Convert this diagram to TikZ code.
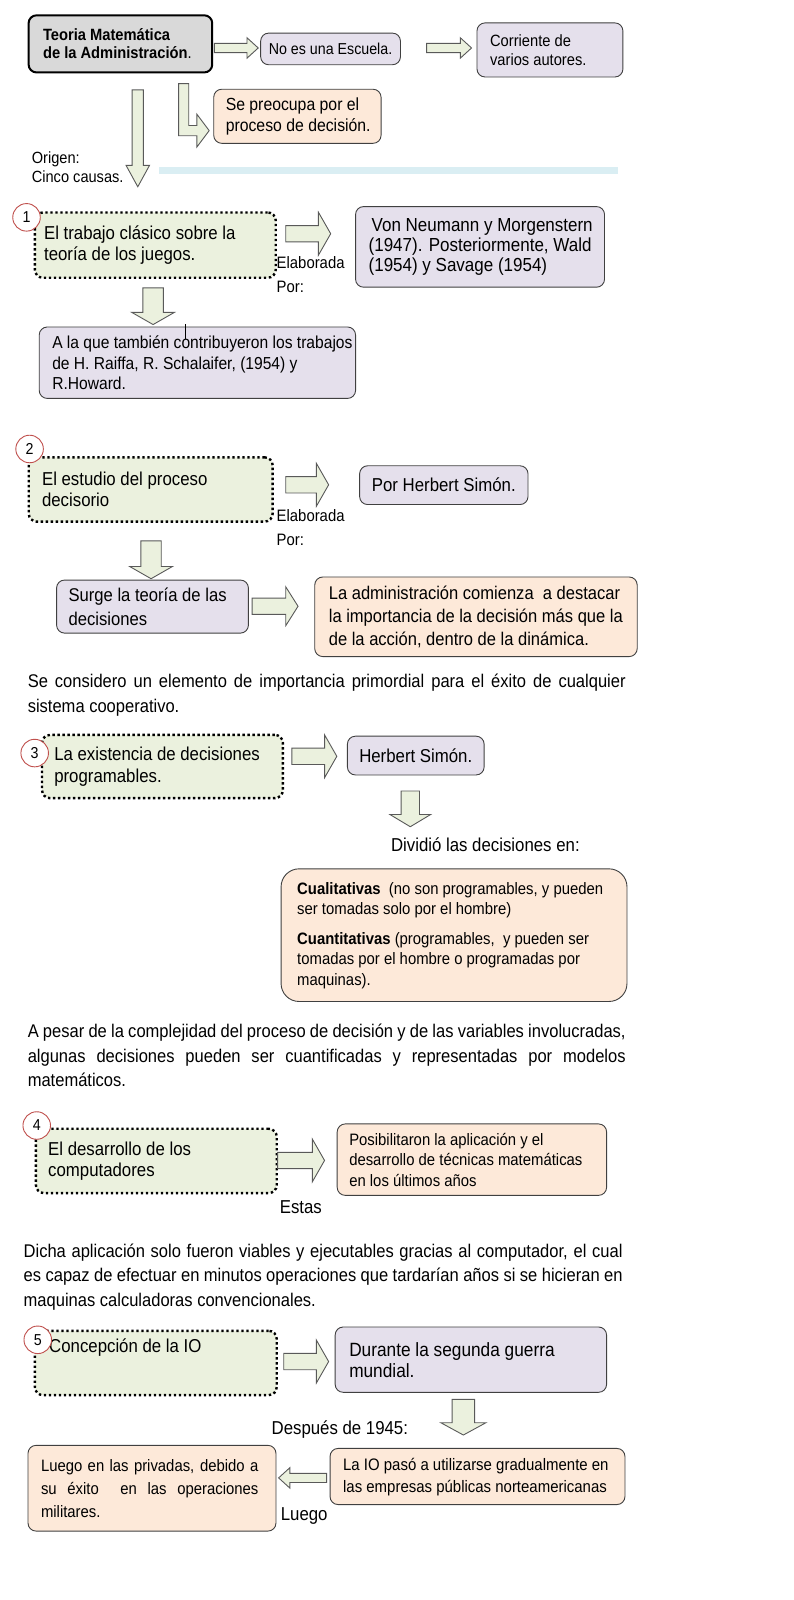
\documentclass[tikz,border=0pt]{standalone}
\usepackage{fontspec}
\setmainfont{Liberation Sans}[FakeStretch=0.9]
\usetikzlibrary{calc,positioning}

\definecolor{lila}{HTML}{E5E0EC}
\definecolor{durazno}{HTML}{FDE9D9}
\definecolor{verde}{HTML}{EBF1DE}
\definecolor{gris}{HTML}{D9D9D9}
\definecolor{celeste}{HTML}{DAEEF3}
\definecolor{rojo}{HTML}{C0504D}
\definecolor{borde}{HTML}{404040}

\newcommand{\chico}{\fontsize{15.5}{18}\selectfont}
\newcommand{\medio}{\fontsize{16.2}{20}\selectfont}
\newcommand{\grande}{\fontsize{18.3}{21}\selectfont}

% flecha de bloque: desde, hasta, medio cuerpo, media punta, largo punta
\newcommand{\flecha}[5]{%
  \draw[flechabloque] let \p1=(#1), \p2=(#2),
    \n1={atan2(\y2-\y1,\x2-\x1)}, \n2={veclen(\x2-\x1,\y2-\y1)} in
    [shift={(\p1)}, rotate=\n1]
    (0pt,-#3pt) -- ({\n2*1pt-#5pt},-#3pt) -- ({\n2*1pt-#5pt},-#4pt)
    -- ({\n2*1pt},0pt) -- ({\n2*1pt-#5pt},#4pt) -- ({\n2*1pt-#5pt},#3pt)
    -- (0pt,#3pt) -- cycle;}

\tikzset{
  caja/.style={anchor=north west, rounded corners=8pt, inner sep=0pt},
  cajalila/.style={caja, draw=borde, fill=lila, line width=0.9pt},
  cajadurazno/.style={caja, draw=borde, fill=durazno, line width=0.9pt},
  cajagris/.style={caja, draw=black, fill=gris, line width=2pt},
  causa/.style={caja, draw=black, fill=verde, line width=2.4pt, dash pattern=on 2.4pt off 2.6pt},
  texto/.style={inner sep=0pt, align=left, font=\grande},
  numero/.style={circle, draw=rojo, fill=white, line width=0.9pt, minimum size=27pt, inner sep=0pt, font=\chico},
  flechabloque/.style={draw=black!65, fill=verde, line width=0.9pt},
  parrafo/.style={anchor=base west, inner sep=0pt, align=justify, font=\fontsize{18}{24}\selectfont,
    execute at begin node={\tolerance=9999 \hyphenpenalty=10000}},
  etiqueta/.style={inner sep=0pt, align=left, font=\grande}
}

\begin{document}
\begin{tikzpicture}[x=1pt, y=-1pt, scale=1.0204, transform shape]
  \useasboundingbox (0,0) rectangle (777.15,1568);
  \fill[white] (0,0) rectangle (777.15,1568);

  % Encabezado
  \node[cajagris, minimum width=180pt, minimum height=56pt] (tema) at (27,14) {};
  \node[texto, font=\fontsize{16}{18}\selectfont, right=15pt of tema.west] (tema-t)
    {\textbf{Teoria Matemática}\\\textbf{de la Administración}.};
  \node[cajalila, minimum width=137pt, minimum height=31pt, font=\chico] (escuela) at (255,32) {No es una Escuela.};
  \node[cajalila, minimum width=143pt, minimum height=53pt] (autores) at (467,22) {};
  \node[texto, font=\fontsize{16}{19}\selectfont, right=13pt of autores.west] (autores-t) {Corriente de\\varios autores.};
  \node[cajadurazno, minimum width=164pt, minimum height=53pt] (decision) at (209,87) {};
  \node[texto, font=\fontsize{17.2}{20}\selectfont, right=12pt of decision.west] (decision-t)
    {Se preocupa por el\\proceso de decisión.};

  \coordinate (t0) at (210,47);
  \coordinate (t1) at (253,47);
  \coordinate (t2) at (418,47);
  \coordinate (t3) at (462,47);
  \flecha{t0}{t1}{4.5}{10}{11}
  \flecha{t2}{t3}{4.5}{10}{11}

  % Flecha en L hacia la decision
  \draw[flechabloque] (175,82) -- (185,82) -- (185,123) -- (193,123) -- (193,112) -- (205,128)
    -- (193,144) -- (193,133) -- (175,133) -- cycle;

  % Origen
  \coordinate (o0) at (135,88);
  \coordinate (o1) at (135,183);
  \flecha{o0}{o1}{5.5}{11.5}{21}
  \node[etiqueta, anchor=west, font=\fontsize{15.9}{18}\selectfont] (origen) at (31,164) {Origen:\\Cinco causas.};
  \fill[celeste] (156,164) rectangle (606,171);

  % Causa 1
  \node[causa, minimum width=236pt, minimum height=64pt] (causa1) at (33,207) {};
  \node[texto, right=10pt of causa1.west] (causa1-t) {El trabajo clásico sobre la\\teoría de los juegos.};
  \node[numero] (n1) at (26,213) {1};
  \node[cajalila, minimum width=244pt, minimum height=79pt] (neumann) at (348,202) {};
  \node[texto, font=\fontsize{18.5}{20}\selectfont, right=13pt of neumann.west] (neumann-t)
    {\hspace{3pt}Von Neumann y Morgenstern\\(1947). Posteriormente, Wald\\(1954) y Savage (1954)};
  \node[etiqueta, anchor=west, font=\fontsize{16.2}{23}\selectfont] (elab1) at (271,269) {Elaborada\\Por:};
  \node[cajalila, minimum width=310pt, minimum height=70pt] (contrib) at (38,320) {};
  \node[texto, font=\fontsize{17}{20}\selectfont, right=13pt of contrib.west] (contrib-t)
    {A la que también contribuyeron los trabajos\\de H. Raiffa, R. Schalaifer, (1954) y\\R.Howard.};
  \draw[line width=0.8pt] (182,318) -- (182,332);

  \coordinate (a0) at (280,229);
  \coordinate (a1) at (324,229);
  \coordinate (a2) at (150,282);
  \coordinate (a3) at (150,318);
  \flecha{a0}{a1}{8}{21}{12}
  \flecha{a2}{a3}{10}{21}{12}

  % Causa 2
  \node[causa, minimum width=239pt, minimum height=63pt] (causa2) at (27,447) {};
  \node[texto, right=14pt of causa2.west] (causa2-t) {El estudio del proceso\\decisorio};
  \node[numero] (n2) at (29,440) {2};
  \node[cajalila, minimum width=165pt, minimum height=38pt, font=\grande] (simon1) at (352,456) {Por Herbert Simón.};
  \node[etiqueta, anchor=west, font=\fontsize{16.2}{23}\selectfont] (elab2) at (271,517) {Elaborada\\Por:};
  \node[cajalila, minimum width=188pt, minimum height=52pt] (surge) at (55,568) {};
  \node[texto, font=\fontsize{18.1}{23}\selectfont, right=12pt of surge.west] (surge-t) {Surge la teoría de las\\decisiones};
  \node[cajadurazno, minimum width=316pt, minimum height=78pt] (accion) at (308,565) {};
  \node[texto, font=\fontsize{18}{22.5}\selectfont, right=14pt of accion.west] (accion-t)
    {La administración comienza\ \ a destacar\\la importancia de la decisión más que la\\de la acción, dentro de la dinámica.};

  \coordinate (b0) at (280,475);
  \coordinate (b1) at (322,475);
  \coordinate (b2) at (148,530);
  \coordinate (b3) at (148,567);
  \coordinate (b4) at (247,594);
  \coordinate (b5) at (292,594);
  \flecha{b0}{b1}{8}{21}{12}
  \flecha{b2}{b3}{10}{21}{12}
  \flecha{b4}{b5}{8}{19}{12}

  \node[parrafo, text width=586pt] (p1) at (27,674)
    {Se considero un elemento de importancia primordial para el éxito de cualquier\linebreak sistema cooperativo.};

  % Causa 3
  \node[causa, minimum width=236pt, minimum height=62pt] (causa3) at (40,719) {};
  \node[texto, right=13pt of causa3.west] (causa3-t) {La existencia de decisiones\\programables.};
  \node[numero] (n3) at (34,738) {3};
  \node[cajalila, minimum width=134pt, minimum height=38pt, font=\grande] (simon2) at (340,721) {Herbert Simón.};
  \node[etiqueta, anchor=west] (divide) at (383,828) {Dividió las decisiones en:};
  \node[cajadurazno, rounded corners=18pt, minimum width=339pt, minimum height=130pt] (tipos) at (275,851) {};
  \node[texto, font=\medio, right=16pt of tipos.west] (tipos-t)
    {\textbf{Cualitativas}\ \ (no son programables, y pueden\\ser tomadas solo por el hombre)\\[9pt]
     \textbf{Cuantitativas} (programables,\ \ y pueden ser\\tomadas por el hombre o programadas por\\maquinas).};

  \coordinate (c0) at (286,741);
  \coordinate (c1) at (330,741);
  \coordinate (c2) at (402,775);
  \coordinate (c3) at (402,810);
  \flecha{c0}{c1}{8}{21}{12}
  \flecha{c2}{c3}{9}{20}{12}

  \node[parrafo, text width=586pt] (p2) at (27,1017)
    {A pesar de la complejidad del proceso de decisión y de las variables involucradas,\linebreak
     algunas decisiones pueden ser cuantificadas y representadas por modelos\linebreak matemáticos.};

  % Causa 4
  \node[causa, minimum width=236pt, minimum height=63pt] (causa4) at (34,1105) {};
  \node[texto, right=13pt of causa4.west] (causa4-t) {El desarrollo de los\\computadores};
  \node[numero] (n4) at (36,1103) {4};
  \node[cajadurazno, minimum width=264pt, minimum height=70pt] (posib) at (330,1101) {};
  \node[texto, font=\medio, right=12pt of posib.west] (posib-t)
    {Posibilitaron la aplicación y el\\desarrollo de técnicas matemáticas\\en los últimos años};
  \node[etiqueta, anchor=west] (estas) at (274,1183) {Estas};

  \coordinate (d0) at (272,1137);
  \coordinate (d1) at (318,1137);
  \flecha{d0}{d1}{8}{21}{12}

  \node[parrafo, text width=587pt] (p3) at (23,1232)
    {Dicha aplicación solo fueron viables y ejecutables gracias al computador, el cual\linebreak
     es capaz de efectuar en minutos operaciones que tardarían años si se hicieran en\linebreak
     maquinas calculadoras convencionales.};

  % Causa 5
  \node[causa, minimum width=237pt, minimum height=63pt] (causa5) at (33,1303) {};
  \node[texto, anchor=north west] (causa5-t) at (48,1312) {Concepción de la IO};
  \node[numero] (n5) at (37,1313) {5};
  \node[cajalila, minimum width=266pt, minimum height=64pt] (guerra) at (328,1300) {};
  \node[texto, font=\fontsize{18.8}{21}\selectfont, right=14pt of guerra.west] (guerra-t) {Durante la segunda guerra\\mundial.};
  \node[etiqueta, anchor=west] (despues) at (266,1401) {Después de 1945:};
  \node[cajadurazno, minimum width=289pt, minimum height=55pt] (publicas) at (323,1419) {};
  \node[texto, font=\fontsize{16.3}{22}\selectfont, right=13pt of publicas.west] (publicas-t)
    {La IO pasó a utilizarse gradualmente en\\las empresas públicas norteamericanas};
  \node[cajadurazno, minimum width=243pt, minimum height=84pt] (privadas) at (27,1416) {};
  \node[texto, align=justify, text width=213pt, font=\fontsize{16.2}{23}\selectfont, right=13pt of privadas.west] (privadas-t)
    {Luego en las privadas, debido a\linebreak su éxito\ \ en las operaciones\linebreak militares.};
  \node[etiqueta, anchor=west] (luego) at (275,1486) {Luego};

  \coordinate (e0) at (278,1334);
  \coordinate (e1) at (322,1334);
  \coordinate (e2) at (454,1371);
  \coordinate (e3) at (454,1406);
  \coordinate (e4) at (320,1448);
  \coordinate (e5) at (273,1448);
  \flecha{e0}{e1}{8}{21}{12}
  \flecha{e2}{e3}{11}{22}{12}
  \flecha{e4}{e5}{4.5}{10}{11}
\end{tikzpicture}
\end{document}
